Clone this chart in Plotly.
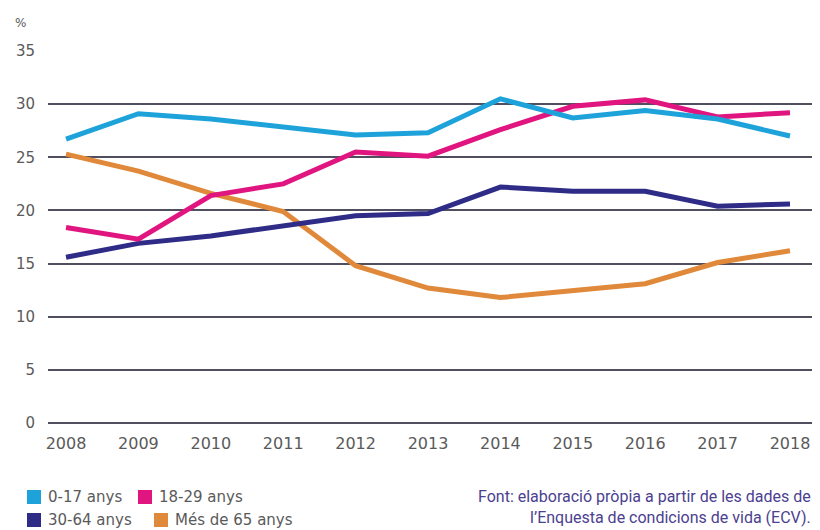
import plotly.graph_objects as go

years = [2008, 2009, 2010, 2011, 2012, 2013, 2014, 2015, 2016, 2017, 2018]
age_0_17 = [26.7, 29.1, 28.6, 27.9, 27.1, 27.3, 30.5, 28.7, 29.4, 28.6, 27.0]
age_18_29 = [18.4, 17.3, 21.4, 22.5, 25.5, 25.1, 27.6, 29.8, 30.4, 28.8, 29.2]
age_30_64 = [15.6, 16.9, 17.6, 18.6, 19.5, 19.7, 22.2, 21.8, 21.8, 20.4, 20.6]
age_65 = [25.3, 23.7, 21.6, 19.9, 14.8, 12.7, 11.8, 12.5, 13.1, 15.1, 16.2]

series_names = ["0-17 anys", "18-29 anys", "30-64 anys", "Més de 65 anys"]
series_values = [age_0_17, age_18_29, age_30_64, age_65]
colors = ["#1ea2da", "#e0157f", "#2e2c86", "#e0893a"]
y_ticks = [0, 5, 10, 15, 20, 25, 30, 35]

# page body has an 8px margin; figure is shifted accordingly
OFF = 8
W, H = 820 - OFF, 530 - OFF
L, R, T, B = 48 - OFF, 8, 51 - OFF, 107
PW, PH = W - L - R, H - T - B

def px(x):
    return (x - OFF - L) / PW

def py(y):
    return (H - B - (y - OFF)) / PH

fig = go.Figure()
order = [3, 2, 1, 0]
for i in order:
    fig.add_trace(go.Scatter(
        x=years, y=series_values[i], mode="lines", name=series_names[i],
        line=dict(color=colors[i], width=5), showlegend=False,
    ))

font_main = "DejaVu Sans"
grey = "#5a5a5a"

fig.update_layout(
    width=W, height=H,
    margin=dict(l=L, r=R, t=T, b=B),
    paper_bgcolor="white", plot_bgcolor="white",
    showlegend=False,
    font=dict(family=font_main, size=15, color=grey),
    xaxis=dict(
        range=[2007.751, 2018.304], tickmode="array", tickvals=years,
        ticktext=[str(y) for y in years], showgrid=False, zeroline=False,
        showline=False, ticks="", ticklabelstandoff=9,
        tickfont=dict(family=font_main, size=16, color=grey),
    ),
    yaxis=dict(
        range=[0, 35], tickmode="array", tickvals=y_ticks,
        showgrid=True, gridcolor="#4f4f5f", gridwidth=1.5,
        zeroline=True, zerolinecolor="#4f4f5f", zerolinewidth=1.5,
        showline=False, ticks="", ticklabelstandoff=12,
        tickfont=dict(family=font_main, size=15, color=grey),
    ),
)

fig.add_annotation(text="%", x=px(13), y=py(23), xref="paper", yref="paper",
                   xanchor="left", yanchor="middle", showarrow=False,
                   font=dict(family=font_main, size=12, color=grey))

legend_pos = [(27, 497), (138, 497), (27, 520), (154, 520)]
for i, (sx, sy) in enumerate(legend_pos):
    fig.add_shape(type="rect", xref="paper", yref="paper",
                  x0=px(sx), x1=px(sx + 14), y0=py(sy + 7), y1=py(sy - 7),
                  fillcolor=colors[i], line=dict(width=0))
    fig.add_annotation(text=series_names[i], x=px(sx + 19), y=py(sy),
                       xref="paper", yref="paper", xanchor="left",
                       yanchor="middle", showarrow=False,
                       font=dict(family=font_main, size=15, color=grey))

fig.add_annotation(
    text="Font: elaboració pròpia a partir de les dades de<br>l’Enquesta de condicions de vida (ECV).",
    x=px(813), y=py(507), xref="paper", yref="paper", xanchor="right",
    yanchor="middle", align="right", showarrow=False,
    font=dict(family="Roboto", size=16, color="#4b4190"))

fig.write_html("out.html")
